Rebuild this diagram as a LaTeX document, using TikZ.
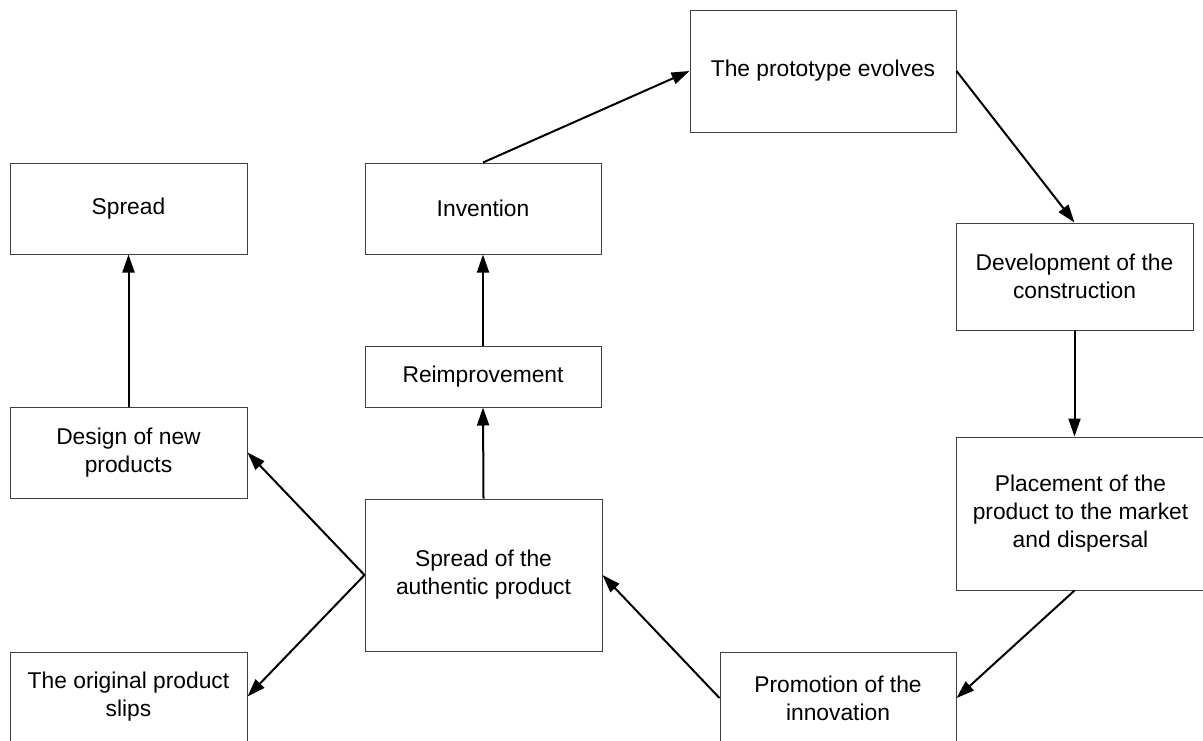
\documentclass[tikz,border=0pt]{standalone}
\usepackage{fontspec}
\setmainfont{Liberation Sans}
\usetikzlibrary{arrows.meta}
\begin{document}
\begin{tikzpicture}[x=0.5pt,y=-0.5pt,
  box/.style={draw=black!75, line width=0.5pt, inner sep=0pt, align=center,
    font=\fontsize{11.4}{14}\selectfont},
  conn/.style={line width=1pt, draw=black, -{Triangle[length=9pt,width=6pt]}},
  plainconn/.style={line width=1pt, draw=black}]
\useasboundingbox (0,0) rectangle (1203,740);
\clip (0,0) rectangle (1203,740);
\fill[white] (0,0) rectangle (1203,740);

\node[box, minimum width=133pt, minimum height=61pt] (proto) at (823,71) {The prototype evolves};
\node[box, minimum width=118.5pt, minimum height=45.5pt] (spread) at (128.5,208.5) {Spread};
\node[box, minimum width=118pt, minimum height=45.5pt] (inv) at (483,208.5) {Invention};
\node[box, minimum width=118.5pt, minimum height=53.5pt] (dev) at (1074.5,276.5) {Development of the\\construction};
\node[box, minimum width=118pt, minimum height=30.5pt] (reimp) at (483,376.5) {Reimprovement};
\node[box, minimum width=118.5pt, minimum height=45.5pt] (design) at (128.5,452.5) {Design of new\\products};
\node[box, minimum width=118.5pt, minimum height=76pt] (auth) at (483.5,575) {Spread of the\\authentic product};
\node[box, minimum width=124.5pt, minimum height=76.5pt] (place) at (1080.5,513.5) {Placement of the\\product to the market\\and dispersal};
\node[box, minimum width=118.5pt, minimum height=44.5pt] (orig) at (128.5,696.5) {The original product\\slips};
\node[box, minimum width=118pt, minimum height=46pt] (promo) at (838,698) {Promotion of the\\innovation};

\draw[conn] (inv.north) -- (proto.west);
\draw[conn] (proto.east) -- (dev.north);
\draw[conn] (dev.south) -- (dev.south |- place.north);
\draw[conn] (dev.south |- place.south) -- (promo.east);
\draw[conn] (promo.west) -- (auth.east);
\draw[conn] (auth.west) -- (design.east);
\draw[conn] (auth.west) -- (orig.east);
\draw[conn] (auth.north) -- (reimp.south);
\draw[conn] (reimp.north) -- (inv.south);
\draw[conn] (design.north) -- (spread.south);
\end{tikzpicture}
\end{document}
